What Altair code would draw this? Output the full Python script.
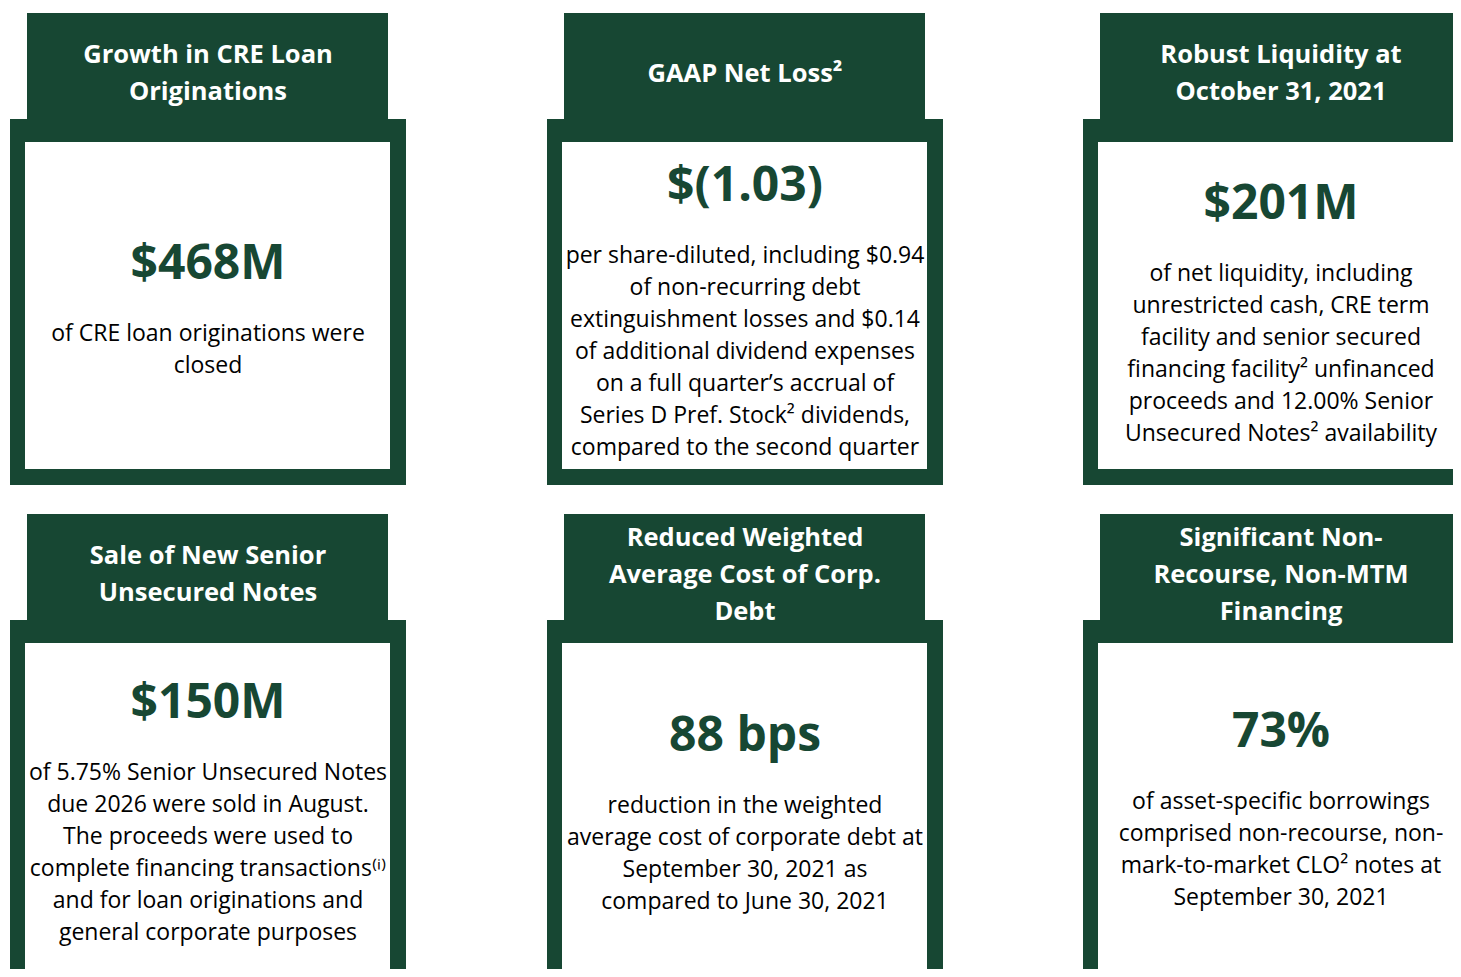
import altair as alt
import pandas as pd

GREEN = "#174733"

# ---- content (data) ----
titles = [
    ["Growth in CRE Loan", "Originations"],
    ["GAAP Net Loss²"],
    ["Robust Liquidity at", "October 31, 2021"],
    ["Sale of New Senior", "Unsecured Notes"],
    ["Reduced Weighted", "Average Cost of Corp.", "Debt"],
    ["Significant Non-", "Recourse, Non-MTM", "Financing"],
]
headlines = ["$468M", "$(1.03)", "$201M", "$150M", "88 bps", "73%"]
bodies = [
    ["of CRE loan originations were", "closed"],
    ["per share-diluted, including $0.94", "of non-recurring debt",
     "extinguishment losses and $0.14", "of additional dividend expenses",
     "on a full quarter’s accrual of", "Series D Pref. Stock² dividends,",
     "compared to the second quarter"],
    ["of net liquidity, including", "unrestricted cash, CRE term",
     "facility and senior secured", "financing facility² unfinanced",
     "proceeds and 12.00% Senior", "Unsecured Notes² availability"],
    ["of 5.75% Senior Unsecured Notes", "due 2026 were sold in August.",
     "The proceeds were used to", "complete financing transactions⁽ⁱ⁾",
     "and for loan originations and", "general corporate purposes"],
    ["reduction in the weighted", "average cost of corporate debt at",
     "September 30, 2021 as", "compared to June 30, 2021"],
    ["of asset-specific borrowings", "comprised non-recourse, non-",
     "mark-to-market CLO² notes at", "September 30, 2021"],
]

# ---- layout (pixel units of the page) ----
col_x = [10, 547, 1083]
row_y = [13, 514]
headline_off = [252, 174, 192, 190, 223, 219]
TITLE_GAP = 37
BODY_GAP = 32
W, H = 1445, 961

rects, ttl, big, body = [], [], [], []
for i in range(6):
    cx0 = col_x[i % 3]
    ry0 = row_y[i // 3]
    cx = cx0 + 198
    rects.append(dict(x=cx0, x2=cx0 + 396, y=ry0 + 106, y2=ry0 + 472, c=GREEN, o=0))
    rects.append(dict(x=cx0 + 17, x2=cx0 + 378, y=ry0, y2=ry0 + 130, c=GREEN, o=1))
    rects.append(dict(x=cx0 + 15, x2=cx0 + 380, y=ry0 + 129, y2=ry0 + 456, c="#ffffff", o=2))
    n = len(titles[i])
    tc = ry0 + 60.5
    for j, t in enumerate(titles[i]):
        ttl.append(dict(x=cx, y=tc + (j - (n - 1) / 2) * TITLE_GAP, t=t))
    hy = ry0 + headline_off[i]
    big.append(dict(x=cx, y=hy, t=headlines[i]))
    for j, t in enumerate(bodies[i]):
        body.append(dict(x=cx, y=hy + 69 + j * BODY_GAP, t=t))

XS = alt.Scale(domain=[8, 8 + W], zero=False, nice=False)
YS = alt.Scale(domain=[8, 8 + H], reverse=True, zero=False, nice=False)

def xe(f="x"):
    return alt.X(f"{f}:Q", scale=XS, axis=None)

def ye(f="y"):
    return alt.Y(f"{f}:Q", scale=YS, axis=None)

FONT = "Open Sans"

rect_layer = alt.Chart(pd.DataFrame(rects)).mark_rect(clip=True).encode(
    x=xe(), x2="x2:Q", y=ye(), y2="y2:Q",
    color=alt.Color("c:N", scale=None), order="o:Q",
)

title_layer = alt.Chart(pd.DataFrame(ttl)).mark_text(
    font=FONT, fontSize=25.5, fontWeight="bold", color="#ffffff",
    align="center", baseline="middle",
).encode(x=xe(), y=ye(), text="t:N")

big_layer = alt.Chart(pd.DataFrame(big)).mark_text(
    font=FONT, fontSize=48, fontWeight="bold", color=GREEN,
    align="center", baseline="middle",
).encode(x=xe(), y=ye(), text="t:N")

body_layer = alt.Chart(pd.DataFrame(body)).mark_text(
    font=FONT, fontSize=23, color="#000000",
    align="center", baseline="middle",
).encode(x=xe(), y=ye(), text="t:N")

chart = alt.layer(rect_layer, title_layer, big_layer, body_layer).properties(
    width=W, height=H,
    autosize=alt.AutoSizeParams(type="none"),
    padding=0, background="#ffffff",
).configure_view(strokeWidth=0)

chart.save("out.html", embed_options={"renderer": "svg", "actions": False})
